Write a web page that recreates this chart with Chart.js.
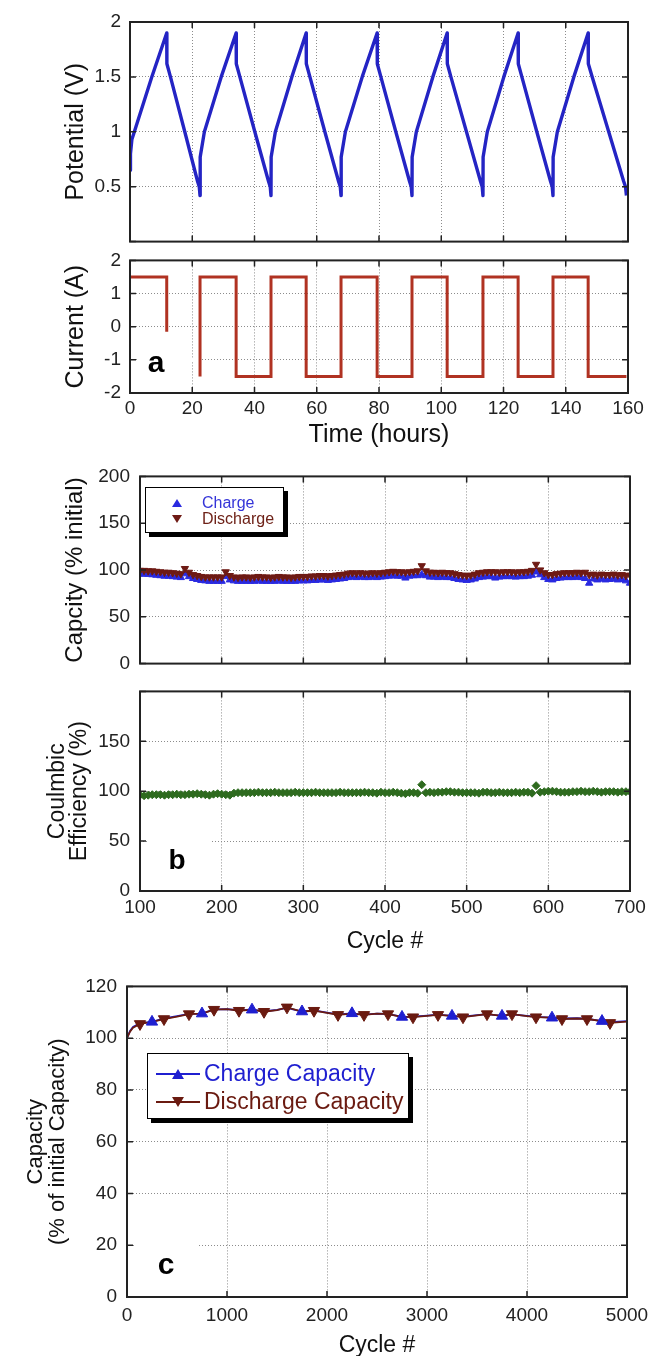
<!DOCTYPE html>
<html>
<head>
<meta charset="utf-8">
<title>Cycling data</title>
<script src="https://cdn.jsdelivr.net/npm/chart.js@4/dist/chart.umd.min.js"></script>
<style>
  body { margin: 0; background: #fff; width: 668px; height: 1356px; overflow: hidden; position: relative;
         font-family: "Liberation Sans", Arial, Helvetica, sans-serif; }
  canvas { position: absolute; left: 0; }
  .tag { position: absolute; font-weight: bold; color: #000; line-height: 1; transform: translate(-50%, -50%); }
  .legend { position: absolute; background: #fff; border: 1.5px solid #000; box-shadow: 4px 4px 0 #000; box-sizing: border-box; }
  .legend div { position: absolute; }
  .up, .down { width: 0; height: 0; border-left: 5px solid transparent; border-right: 5px solid transparent; transform: translate(-50%, -50%); }
  .lbl { line-height: 1.2; transform: translateY(-50%); white-space: nowrap; }
  .swatch { height: 2px; transform: translateY(-50%); }
</style>
</head>
<body>
<canvas id="potential" width="668" height="262" style="top:0"></canvas>
<canvas id="current" width="668" height="210" style="top:240px"></canvas>
<canvas id="capacity" width="668" height="230" style="top:455px"></canvas>
<canvas id="efficiency" width="668" height="290" style="top:670px"></canvas>
<canvas id="longterm" width="668" height="400" style="top:965px"></canvas>

<div class="tag" style="left:156px;top:362px;font-size:30px">a</div>
<div class="tag" style="left:177px;top:860px;font-size:28px">b</div>
<div class="tag" style="left:166px;top:1264px;font-size:30px">c</div>

<div class="legend" style="left:145px;top:487px;width:139px;height:46px">
  <div class="up" style="left:31px;top:15px;border-bottom:8px solid #2a2ae0"></div>
  <div class="lbl" style="left:56px;top:15px;font-size:16px;color:#3434d8">Charge</div>
  <div class="down" style="left:31px;top:31px;border-top:8px solid #6e1a14"></div>
  <div class="lbl" style="left:56px;top:31px;font-size:16px;color:#6e2218">Discharge</div>
</div>

<div class="legend" style="left:147px;top:1053px;width:262px;height:66px">
  <div class="swatch" style="left:8px;top:20px;width:44px;background:#1f1fd0"></div>
  <div class="up" style="left:30px;top:20px;border-left-width:6px;border-right-width:6px;border-bottom:10px solid #1f1fd0"></div>
  <div class="lbl" style="left:56px;top:20px;font-size:23px;color:#1f1fd0">Charge Capacity</div>
  <div class="swatch" style="left:8px;top:48px;width:44px;background:#6a1a10"></div>
  <div class="down" style="left:30px;top:48px;border-left-width:6px;border-right-width:6px;border-top:10px solid #6a1a10"></div>
  <div class="lbl" style="left:56px;top:48px;font-size:23px;color:#6a1a10">Discharge Capacity</div>
</div>

<script>
// ---- panel a: potential and current vs time (hours) ----
const potTime = [
  0, 0.15, 0.6, 1.4, 7.0, 11.8,
  11.85, 13.0, 17.6, 21.7, 22.25, 22.5,
  22.55, 23.9, 29.3, 34.1,
  34.15, 35.3, 40.1, 44.5, 45.05, 45.3,
  45.35, 46.7, 52.0, 56.6,
  56.65, 57.8, 62.6, 67.0, 67.55, 67.8,
  67.85, 69.2, 74.6, 79.4,
  79.45, 80.6, 85.4, 89.8, 90.35, 90.6,
  90.65, 92.0, 97.3, 101.9,
  101.95, 103.1, 108.1, 112.6, 113.15, 113.4,
  113.45, 114.8, 120.1, 124.7,
  124.75, 125.9, 130.7, 135.1, 135.65, 135.9,
  135.95, 137.3, 142.6, 147.2,
  147.25, 148.5, 153.8, 158.6, 159.2, 159.5
];
const potVolt = [
  0.65, 0.8, 0.93, 1.0, 1.5, 1.9,
  1.62, 1.5, 1.0, 0.55, 0.5, 0.42,
  0.77, 1.0, 1.5, 1.9,
  1.62, 1.5, 1.0, 0.55, 0.5, 0.42,
  0.77, 1.0, 1.5, 1.9,
  1.62, 1.5, 1.0, 0.55, 0.5, 0.42,
  0.77, 1.0, 1.5, 1.9,
  1.62, 1.5, 1.0, 0.55, 0.5, 0.42,
  0.77, 1.0, 1.5, 1.9,
  1.62, 1.5, 1.0, 0.55, 0.5, 0.42,
  0.77, 1.0, 1.5, 1.9,
  1.62, 1.5, 1.0, 0.55, 0.5, 0.42,
  0.77, 1.0, 1.5, 1.9,
  1.62, 1.5, 1.0, 0.55, 0.5, 0.42
];
const curTime = [0, 11.8, 11.8, 17, 22.5, 22.5, 34.1, 34.1, 45.3, 45.3, 56.6, 56.6, 67.8, 67.8,
  79.4, 79.4, 90.6, 90.6, 101.9, 101.9, 113.4, 113.4, 124.7, 124.7, 135.9, 135.9, 147.2, 147.2, 159.5];
const curAmp = [1.5, 1.5, -0.15, null, -1.5, 1.5, 1.5, -1.5, -1.5, 1.5, 1.5, -1.5, -1.5, 1.5,
  1.5, -1.5, -1.5, 1.5, 1.5, -1.5, -1.5, 1.5, 1.5, -1.5, -1.5, 1.5, 1.5, -1.5, -1.5];

// ---- panel b: capacity and coulombic efficiency vs cycle ----
const cycleB = [
  100, 105, 110, 115, 120, 125, 130, 135, 140, 145,
  150, 155, 160, 165, 170, 175, 180, 185, 190, 195,
  200, 205, 210, 215, 220, 225, 230, 235, 240, 245,
  250, 255, 260, 265, 270, 275, 280, 285, 290, 295,
  300, 305, 310, 315, 320, 325, 330, 335, 340, 345,
  350, 355, 360, 365, 370, 375, 380, 385, 390, 395,
  400, 405, 410, 415, 420, 425, 430, 435, 440, 445,
  450, 455, 460, 465, 470, 475, 480, 485, 490, 495,
  500, 505, 510, 515, 520, 525, 530, 535, 540, 545,
  550, 555, 560, 565, 570, 575, 580, 585, 590, 595,
  600, 605, 610, 615, 620, 625, 630, 635, 640, 645,
  650, 655, 660, 665, 670, 675, 680, 685, 690, 695,
  700
];
const dischargeB = [
  99.5, 99.5, 99, 99, 98.5, 98, 97.5, 97.5, 97, 96.5,
  96, 101.5, 97.5, 95, 94, 93, 92.5, 92.5, 92.5, 92.5,
  92.5, 98, 94, 92.5, 92, 92.5, 92.5, 92, 92.5, 93,
  92.5, 92.5, 92, 92.5, 93, 92.5, 92.5, 92, 92.5, 93,
  93, 93, 93.5, 93.5, 94, 94, 93.5, 94, 94.5, 95,
  95.5, 96.5, 97, 96.5, 97, 96.5, 96.5, 97, 96.5, 97,
  97.5, 98, 98.5, 98, 98, 97.5, 98, 98.5, 99, 104.5,
  99, 97.5, 97.5, 97, 97.5, 97, 97, 96, 95, 94.5,
  94, 94.5, 95.5, 97, 97.5, 98, 98, 98, 97.5, 98,
  98, 98, 97.5, 98, 98, 98.5, 99.5, 106, 100, 97,
  95, 95, 96, 96.5, 97, 97, 97, 97.5, 97, 97.5,
  95, 95.5, 94.5, 95.5, 95, 95, 95.5, 94.5, 95, 94,
  94.5
];
const chargeB = [
  96, 95.5, 95.5, 95, 94.5, 94, 93.5, 93.5, 93, 92.5,
  92, 96, 93, 91, 90, 89, 88.5, 88, 88, 88,
  88, 93, 89.5, 88.5, 88, 88, 88, 88, 88, 88.5,
  88, 88, 88, 88, 88.5, 88, 88, 88, 88, 88.5,
  88.5, 88.5, 89, 89, 89.5, 89.5, 89, 89.5, 90, 90.5,
  91, 92, 92.5, 92, 92.5, 92, 92, 92.5, 92, 92.5,
  93, 93.5, 94, 93.5, 93.5, 91.5, 93.5, 94, 94, 95,
  94, 92.5, 92.5, 92, 92.5, 92, 92, 91, 90, 89.5,
  89, 89.5, 90.5, 92, 92.5, 93, 93, 91.5, 92.5, 93,
  93, 93, 92.5, 93, 93, 93.5, 94.5, 98, 95, 92,
  90, 89.5, 91, 91.5, 92, 92, 92, 92.5, 92, 91,
  86, 90.5, 89.5, 90.5, 89.5, 90, 90.5, 89.5, 90, 88.5,
  86
];
const efficiencyB = [
  96, 95.5, 96, 96.5, 96.5, 96.5, 96, 96.5, 96.5, 97,
  96.5, 96.5, 97, 97, 97.5, 97, 96.5, 96, 97, 97.5,
  97, 96.5, 96, 98, 98.5, 98.5, 98.5, 98.5, 98.5, 99,
  98.5, 98.5, 98.5, 99, 98.5, 98.5, 98.5, 98.5, 99, 98.5,
  98.5, 98.5, 98.5, 99, 98.5, 98.5, 98.5, 98.5, 98.5, 99,
  98.5, 98.5, 98.5, 98.5, 98.5, 99, 98.5, 98.5, 98, 99,
  98.5, 98.5, 99, 98.5, 98, 97.5, 98.5, 98.5, 98, 106.5,
  98.5, 99, 98.5, 99, 99, 99.5, 99.5, 99, 99, 98.5,
  98.5, 98.5, 98.5, 98, 99, 99, 98.5, 98.5, 99, 98.5,
  98.5, 98.5, 99, 98.5, 99, 99, 98, 105.5, 99, 99.5,
  100, 100, 99.5, 99, 99, 99, 99.5, 99.5, 100, 99.5,
  99.5, 100, 99.5, 99, 99.5, 99.5, 99.5, 99, 99.5, 99.5,
  99.5
];

// ---- panel c: long-term capacity vs cycle ----
const cycleC = [0, 30, 60, 130, 250, 370, 500, 620, 750, 870, 1000, 1120, 1250, 1370, 1500,
  1600, 1750, 1870, 2000, 2110, 2250, 2370, 2500, 2610, 2750, 2860, 3000, 3110, 3250, 3360,
  3500, 3600, 3750, 3850, 4000, 4090, 4250, 4350, 4500, 4600, 4750, 4830, 5000];
const dischargeC = [100, 102.5, 104, 105.5, 106.3, 107.4, 108.3, 109.3, 109.5, 111, 111.2, 110.6, 111, 110.2, 110.8,
  111.9, 110.3, 110.6, 109.8, 109, 109.5, 109, 109.5, 109.3, 108.2, 108.1, 108.6, 109, 108.6, 108.1,
  108.8, 109.3, 108.6, 109.3, 108.5, 108.1, 107.9, 107.4, 107.6, 107.4, 106.6, 105.9, 106.4];
const chargeC = [100, 102.8, 104.3, 105.8, 106.3, 107.6, 108.5, 109.4, 109.5, 111.1, 111.2, 110.8, 111, 110.4, 110.9,
  111.7, 110.3, 110.7, 109.9, 109.2, 109.6, 109.1, 109.5, 109.4, 108.2, 108.3, 108.7, 109.1, 108.6, 108.3,
  108.9, 109.3, 108.6, 109.2, 108.6, 108.2, 107.9, 107.6, 107.7, 107.5, 106.6, 106.2, 106.6];
const chargeMarkAt = [250, 750, 1250, 1750, 2250, 2750, 3250, 3750, 4250, 4750];
const dischargeMarkAt = [130, 370, 620, 870, 1120, 1370, 1600, 1870, 2110, 2370, 2610, 2860,
  3110, 3360, 3600, 3850, 4090, 4350, 4600, 4830];

// ---- helpers ----
Chart.defaults.font.family = '"Liberation Sans", Arial, Helvetica, sans-serif';
Chart.defaults.color = '#1a1a1a';

function pts(xs, ys) {
  return xs.map((x, i) => ({ x: x, y: ys[i] }));
}
function pick(xs, ys, keep) {
  return pts(xs, ys).filter(p => keep.includes(p.x));
}

// closed box with inward tick marks; optional white gap behind the panel letter
const frame = {
  id: 'frame',
  beforeDatasetsDraw(chart, args, opts) {
    if (opts.maskAt === undefined) return;
    const { ctx, chartArea: a, scales } = chart;
    const py = scales.y.getPixelForValue(opts.maskAt);
    const px = scales.x.getPixelForValue(opts.maskTo);
    ctx.save();
    ctx.fillStyle = '#fff';
    ctx.fillRect(a.left + 8, py - 2, px - a.left - 8, 4);
    ctx.restore();
  },
  afterDatasetsDraw(chart) {
    const { ctx, chartArea: a, scales } = chart;
    ctx.save();
    ctx.strokeStyle = '#222';
    ctx.lineWidth = 1.5;
    ctx.beginPath();
    scales.x.ticks.forEach(t => {
      const px = scales.x.getPixelForValue(t.value);
      ctx.moveTo(px, a.bottom); ctx.lineTo(px, a.bottom - 6);
      ctx.moveTo(px, a.top); ctx.lineTo(px, a.top + 6);
    });
    scales.y.ticks.forEach(t => {
      const py = scales.y.getPixelForValue(t.value);
      ctx.moveTo(a.left, py); ctx.lineTo(a.left + 6, py);
      ctx.moveTo(a.right, py); ctx.lineTo(a.right - 6, py);
    });
    ctx.stroke();
    ctx.lineWidth = 2;
    ctx.strokeRect(a.left, a.top, a.right - a.left, a.bottom - a.top);
    ctx.restore();
  }
};

function makeChart(id, c) {
  const grid = { color: '#8c8c8c', lineWidth: 1, drawTicks: false };
  const border = { display: false, dash: [1, 2] };
  return new Chart(document.getElementById(id), {
    type: 'scatter',
    data: { datasets: c.datasets },
    options: {
      responsive: false,
      animation: false,
      layout: { padding: c.padding },
      plugins: { legend: { display: false }, tooltip: { enabled: false }, frame: c.frame || {} },
      scales: {
        x: {
          type: 'linear', min: c.x.min, max: c.x.max,
          grid: grid, border: border,
          ticks: { display: !!c.x.show, stepSize: c.x.step, autoSkip: false, padding: c.x.pad || 0,
                   font: { size: 19 }, color: '#222', callback: v => String(v) },
          title: c.x.title ? { display: true, text: c.x.title, font: { size: c.x.titleSize },
                               color: '#111', padding: { top: 0, bottom: c.x.titlePad } } : { display: false },
          afterFit: s => { s.height = c.x.height || 0; }
        },
        y: {
          type: 'linear', min: c.y.min, max: c.y.max,
          grid: grid, border: border,
          ticks: { stepSize: c.y.step, autoSkip: false, padding: c.y.pad, font: { size: 19 }, color: '#222',
                   callback: v => (v === c.y.hide ? '' : String(v)) },
          title: { display: true, text: c.y.title, color: '#111',
                   font: { size: c.y.titleSize, lineHeight: c.y.titleLine || 1.2 },
                   padding: { top: c.y.titlePad, bottom: 0 } },
          afterFit: s => { s.width = c.y.width; }
        }
      }
    },
    plugins: [frame]
  });
}

// ---- panel a ----
makeChart('potential', {
  padding: { top: 22, right: 40, bottom: 9, left: 0 },
  x: { min: 0, max: 160, step: 20 },
  y: { min: 0, max: 2, step: 0.5, hide: 0, pad: 9, width: 130, title: 'Potential (V)', titleSize: 25, titlePad: 61 },
  datasets: [{
    data: pts(potTime, potVolt), showLine: true, borderColor: '#2424c4', borderWidth: 3.4,
    pointRadius: 0, borderJoinStyle: 'round'
  }]
});

makeChart('current', {
  padding: { top: 13, right: 40, bottom: 0, left: 0 },
  x: { min: 0, max: 160, step: 20, show: true, pad: 4, height: 57, title: 'Time (hours)', titleSize: 25, titlePad: 0 },
  y: { min: -2, max: 2, step: 1, pad: 9, width: 130, title: 'Current (A)', titleSize: 25, titlePad: 61 },
  frame: { maskAt: -1, maskTo: 21.8 },
  datasets: [{
    data: pts(curTime, curAmp), showLine: true, spanGaps: false, borderColor: '#b03222', borderWidth: 3,
    pointRadius: 0
  }]
});

// ---- panel b ----
makeChart('capacity', {
  padding: { top: 16, right: 38, bottom: 3, left: 0 },
  x: { min: 100, max: 700, step: 100 },
  y: { min: 0, max: 200, step: 50, pad: 10, width: 140, title: 'Capcity (% initial)', titleSize: 24, titlePad: 61 },
  datasets: [
    { data: pts(cycleB, dischargeB), pointStyle: 'triangle', rotation: 180, pointRadius: 4.2,
      backgroundColor: '#6e1a14', borderColor: '#6e1a14', borderWidth: 1 },
    { data: pts(cycleB, chargeB), pointStyle: 'triangle', pointRadius: 4.2,
      backgroundColor: '#2a2ae0', borderColor: '#2a2ae0', borderWidth: 1 }
  ]
});

makeChart('efficiency', {
  padding: { top: 12, right: 38, bottom: 0, left: 0 },
  x: { min: 100, max: 700, step: 100, show: true, pad: 5, height: 69, title: 'Cycle #', titleSize: 23, titlePad: 5 },
  y: { min: 0, max: 200, step: 50, hide: 200, pad: 10, width: 140, title: ['Coulmbic', 'Efficiency (%)'],
       titleSize: 23, titleLine: 0.95, titlePad: 47 },
  frame: { maskAt: 50, maskTo: 186 },
  datasets: [
    { data: pts(cycleB, efficiencyB), pointStyle: 'rectRot', pointRadius: 4,
      backgroundColor: '#2e6b1f', borderColor: '#2e6b1f', borderWidth: 1 }
  ]
});

// ---- panel c ----
makeChart('longterm', {
  padding: { top: 17, right: 41, bottom: 0, left: 0 },
  x: { min: 0, max: 5000, step: 1000, show: true, pad: 7, height: 68, title: 'Cycle #', titleSize: 23, titlePad: 6 },
  y: { min: 0, max: 120, step: 20, pad: 10, width: 127, title: ['Capacity', '(% of initial Capacity)'],
       titleSize: 22, titleLine: 1.0, titlePad: 25 },
  frame: { maskAt: 20, maskTo: 700 },
  datasets: [
    { data: pick(cycleC, chargeC, chargeMarkAt), pointStyle: 'triangle', pointRadius: 6.5,
      backgroundColor: '#1f1fd0', borderColor: '#1f1fd0', borderWidth: 1 },
    { data: pick(cycleC, dischargeC, dischargeMarkAt), pointStyle: 'triangle', rotation: 180, pointRadius: 6.5,
      backgroundColor: '#6a1a10', borderColor: '#6a1a10', borderWidth: 1 },
    { data: pts(cycleC, dischargeC), showLine: true, borderColor: '#6a1a10', borderWidth: 1.8, pointRadius: 0 },
    { data: pts(cycleC, chargeC), showLine: true, borderColor: '#1f1fd0', borderWidth: 1.8, pointRadius: 0 }
  ]
});
</script>
</body>
</html>
